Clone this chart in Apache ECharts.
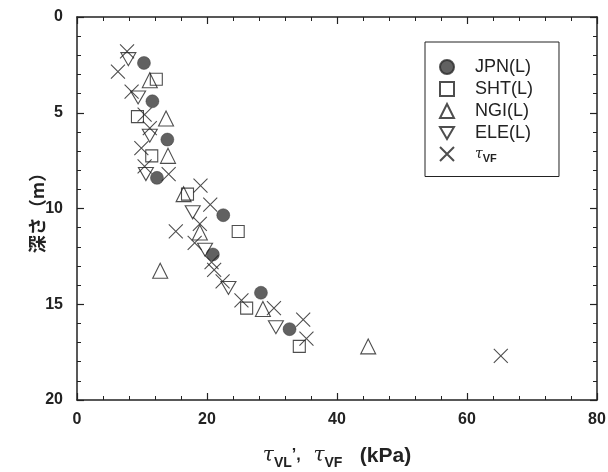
<!DOCTYPE html>
<html>
<head>
<meta charset="utf-8">
<script src="https://cdn.jsdelivr.net/npm/echarts@6/dist/echarts.min.js"></script>
<style>
  html, body { margin: 0; padding: 0; background: #fff; }
  #chart { width: 608px; height: 472px; }
</style>
</head>
<body>
<div id="chart"></div>
<script>
  // [shear strength kPa, depth m]
  const jpn = [[10.3, 2.4], [11.6, 4.4], [13.9, 6.4], [12.3, 8.4], [22.5, 10.35], [20.9, 12.4], [28.3, 14.4], [32.7, 16.3]];
  const sht = [[12.2, 3.25], [9.3, 5.2], [11.5, 7.25], [17.0, 9.25], [24.8, 11.2], [26.1, 15.2], [34.2, 17.2]];
  const ngi = [[11.2, 3.3], [13.7, 5.3], [14.0, 7.25], [16.4, 9.25], [18.9, 11.25], [12.8, 13.25], [28.6, 15.25], [44.8, 17.2]];
  const ele = [[7.9, 2.2], [9.4, 4.2], [11.2, 6.2], [10.6, 8.2], [17.8, 10.2], [19.7, 12.15], [23.3, 14.15], [30.6, 16.2]];
  const tauVF = [[7.7, 1.8], [6.3, 2.85], [8.4, 3.9], [10.4, 5.1], [11.2, 5.8], [9.9, 6.85], [10.4, 7.8], [14.1, 8.2],
    [19.0, 8.8], [20.5, 9.8], [18.9, 10.8], [15.2, 11.2], [18.1, 11.8], [20.7, 12.8], [21.1, 13.2], [22.4, 13.8],
    [25.3, 14.8], [30.3, 15.2], [34.8, 15.8], [35.3, 16.8], [65.2, 17.7]];

  const xTicks = [0, 20, 40, 60, 80];
  const yTicks = [0, 5, 10, 15, 20];

  const ink = '#222';
  const downTri = 'path://M0,0L10,0L5,8.66Z';
  const cross = 'path://M0,0L10,10M10,0L0,10';

  const chart = echarts.init(document.getElementById('chart'));

  const tickLabel = { color: ink, fontSize: 16, fontFamily: 'Liberation Sans', fontWeight: 'bold' };

  function baseAxis(extra) {
    return Object.assign({
      axisLine: { show: true, onZero: false, lineStyle: { color: ink, width: 1.5 } },
      axisTick: { show: true, inside: true, length: 7, lineStyle: { color: ink, width: 1.2 } },
      minorTick: { show: true, splitNumber: 5, length: 4, lineStyle: { color: ink, width: 1 } },
      splitLine: { show: false }
    }, extra);
  }

  function hollow(name, data, symbol, size) {
    return {
      name: name, type: 'scatter', data: data, symbol: symbol, symbolSize: size,
      itemStyle: { color: 'rgba(255,255,255,0)', borderColor: ink, borderWidth: 1.1 }
    };
  }

  chart.setOption({
    animation: false,
    backgroundColor: '#fff',
    grid: { left: 77, right: 11, top: 17, bottom: 72, outerBoundsMode: 'none' },
    legend: {
      orient: 'vertical', left: 425, top: 42,
      padding: [16, 26, 12, 14],
      borderColor: ink, borderWidth: 1,
      itemWidth: 14, itemHeight: 14, itemGap: 4,
      data: ['JPN(L)', 'SHT(L)', 'NGI(L)', 'ELE(L)', 'tauVF'],
      formatter: function (n) {
        return n === 'tauVF' ? '{t|τ}{s|VF}' : '{n|' + n + '}';
      },
      textStyle: {
        color: ink, padding: [0, 0, 0, 16],
        rich: {
          n: { fontSize: 18, lineHeight: 20, fontFamily: 'Liberation Sans', color: ink },
          t: { fontSize: 14, lineHeight: 20, fontFamily: 'DejaVu Serif', fontStyle: 'italic', color: ink },
          s: { fontSize: 11, fontFamily: 'Liberation Sans', fontWeight: 'bold', color: ink, padding: [10, 0, 0, 0] }
        }
      }
    },
    xAxis: [
      baseAxis({
        type: 'value', min: xTicks[0], max: xTicks[xTicks.length - 1], interval: 20, position: 'bottom',
        axisLabel: Object.assign({ margin: 12 }, tickLabel),
        name: '{t|τ}{s|VL}{c|\u2019,}{t|  τ}{s|VF}{u|   (kPa)}',
        nameLocation: 'middle', nameGap: 42, nameMoveOverlap: false,
        nameTextStyle: {
          rich: {
            t: { fontSize: 20, fontFamily: 'DejaVu Serif', fontStyle: 'italic', color: ink },
            s: { fontSize: 14, fontFamily: 'Liberation Sans', fontWeight: 'bold', color: ink, padding: [14, 0, 0, 0] },
            c: { fontSize: 16, fontFamily: 'Liberation Sans', fontWeight: 'bold', color: ink },
            u: { fontSize: 21, fontFamily: 'Liberation Sans', fontWeight: 'bold', color: ink }
          }
        }
      }),
      baseAxis({
        type: 'value', min: xTicks[0], max: xTicks[xTicks.length - 1], interval: 20, position: 'top',
        axisLabel: { show: false }
      })
    ],
    yAxis: [
      baseAxis({
        type: 'value', inverse: true, min: yTicks[0], max: yTicks[yTicks.length - 1], interval: 5, position: 'left',
        axisLabel: Object.assign({ margin: 14 }, tickLabel),
        name: '深さ（m）', nameLocation: 'middle', nameGap: 31, nameRotate: 90, nameMoveOverlap: false,
        nameTextStyle: { fontSize: 18, fontFamily: 'Noto Sans CJK JP', fontWeight: 'bold', color: ink }
      }),
      baseAxis({
        type: 'value', inverse: true, min: yTicks[0], max: yTicks[yTicks.length - 1], interval: 5, position: 'right',
        axisLabel: { show: false }
      })
    ],
    series: [
      {
        name: 'JPN(L)', type: 'scatter', data: jpn, symbol: 'circle', symbolSize: 13,
        itemStyle: { color: '#3a3a3a', borderColor: '#2a2a2a', borderWidth: 0.5 }
      },
      hollow('SHT(L)', sht, 'rect', 12),
      hollow('NGI(L)', ngi, 'triangle', 15),
      hollow('ELE(L)', ele, downTri, [15, 13]),
      hollow('tauVF', tauVF, cross, 14)
    ]
  });
</script>
</body>
</html>
